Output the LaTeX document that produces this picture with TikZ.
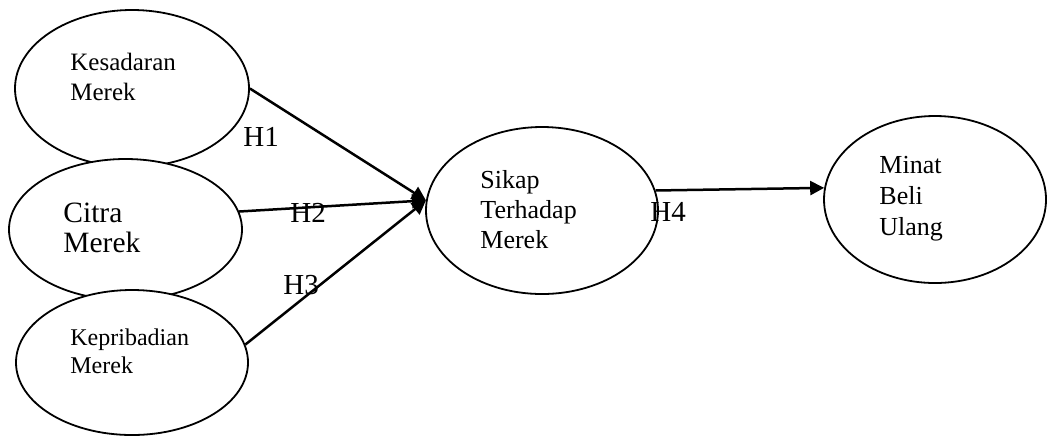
\documentclass[tikz,border=0pt]{standalone}
\usepackage{fontspec}
\setmainfont{Liberation Serif}
\usetikzlibrary{shapes.geometric,arrows.meta}
\tikzset{
  oval/.style={ellipse, draw=black, line width=0.9pt, fill=white, inner sep=0pt},
  lbl/.style={anchor=west, align=left, inner sep=0pt},
  hyp/.style={anchor=west, inner sep=0pt, font=\fontsize{14.5}{17}\selectfont},
  link/.style={line width=1.25pt, -{Triangle[length=7pt,width=7pt]}}
}
\begin{document}
\begin{tikzpicture}[x=0.5pt,y=-0.5pt]
\useasboundingbox (0,0) rectangle (1047,436);
% ellipses (drawn in overlapping order)
\node[oval, minimum width=117pt, minimum height=78.5pt] (k) at (132,88.5) {};
\node[oval, minimum width=116.5pt, minimum height=70.5pt] (c) at (125.5,229.5) {};
\node[oval, minimum width=116pt, minimum height=72.5pt] (p) at (132,362.5) {};
\node[oval, minimum width=116pt, minimum height=83.5pt] (s) at (542,210.5) {};
\node[oval, minimum width=111pt, minimum height=83.5pt] (m) at (935,199.5) {};
% texts
\node[lbl, font=\fontsize{12.5}{15}\selectfont] (kt) at (70,77) {Kesadaran\\Merek};
\node[lbl, font=\fontsize{14.75}{15}\selectfont] (ct) at (63,228) {Citra\\Merek};
\node[lbl, font=\fontsize{12}{14}\selectfont] (pt) at (70,351) {Kepribadian\\Merek};
\node[lbl, font=\fontsize{13}{15}\selectfont] (st) at (480,210) {Sikap\\Terhadap\\Merek};
\node[lbl, font=\fontsize{13}{15.5}\selectfont] (mt) at (879,199) {Minat\\Beli\\Ulang};
% hypothesis labels
\node[hyp] (h1) at (243,137) {H1};
\node[hyp] (h2) at (290,213) {H2};
\node[hyp] (h3) at (283,285) {H3};
\node[hyp] (h4) at (650,212) {H4};
% connectors
\draw[link] (k.east) -- (s.175);
\draw[link] (c.9) -- (s.175);
\draw[link] (p.9) -- (s.175);
\draw[link] (s.10) -- (m.174);
\end{tikzpicture}
\end{document}
